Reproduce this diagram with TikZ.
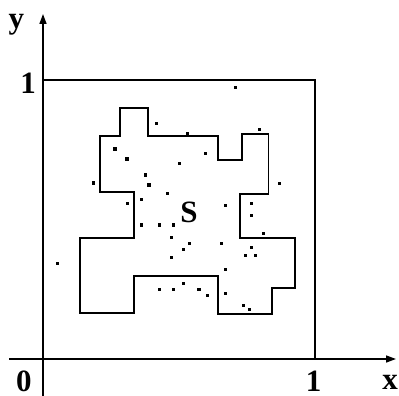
\documentclass[tikz,border=0pt]{standalone}
\usepackage{fontspec}
\setmainfont{Liberation Serif}
\usetikzlibrary{arrows.meta}
\begin{document}
\begin{tikzpicture}[x=1pt,y=-1pt,
  lab/.style={inner sep=0pt,font=\fontsize{31}{31}\selectfont\bfseries},
  axis/.style={line width=1.5pt,-{Triangle[length=10pt,width=7pt]}},
  edge/.style={line width=1.5pt},
  pt/.style={fill=black}]
\useasboundingbox (0,0) rectangle (399,396);
\coordinate (xs) at (9,359);
\coordinate (xe) at (396,359);
\coordinate (ys) at (43,396);
\coordinate (ye) at (43,14);
\draw[axis] (xs) -- (xe);
\draw[axis] (ys) -- (ye);
% unit square
\draw[edge] (43,80) -- (315,80) -- (315,359);
% region S
\draw[edge,line join=miter] (100,192) -- (100,136) -- (120,136) -- (120,108) -- (148,108) -- (148,136)
  -- (218,136) -- (218,160) -- (242,160) -- (242,134) -- (268.5,134) -- (268.5,194)
  -- (240,194) -- (240,238) -- (295,238) -- (295,288) -- (272,288) -- (272,314)
  -- (218,314) -- (218,276) -- (134,276) -- (134,313) -- (80,313) -- (80,238)
  -- (134,238) -- (134,192) -- cycle;
% points
\foreach \px/\py in {235.3/87.3,156.7/123.3,187.3/133.3,259.3/129.3,115/149,127/159,
  179.3/163.3,205.3/153.3,145.3/175,149/185,93.3/183,167.3/193.3,279.3/183.3,
  141.3/199.3,127.3/203.3,225.3/205.3,251.3/203.3,251.3/215.3,141.3/225,159.3/225,
  173.3/225,171.3/237.3,189.3/243.3,183.3/249.3,171.3/257.3,263.3/233.3,221.3/243.3,
  251.3/247.3,245.3/255.3,255.5/255.3,225.3/269.3,57.3/263.3,159.3/289.3,173.3/289.3,
  183.3/283.3,199/289.3,207.3/295.3,225.3/293.3,243.3/305.3,249.3/309.3}
  \fill[pt] (\px-1.6,\py-1.6) rectangle (\px+1.6,\py+1.6);
% labels
\node[lab] (ly) at (16.5,25) {y};
\node[lab] (l1y) at (28,83.5) {1};
\node[lab] (l0) at (24,381.5) {0};
\node[lab] (l1x) at (313.5,381.5) {1};
\node[lab] (lx) at (390,382) {x};
\node[lab] (lS) at (189,212.5) {S};
\end{tikzpicture}
\end{document}
